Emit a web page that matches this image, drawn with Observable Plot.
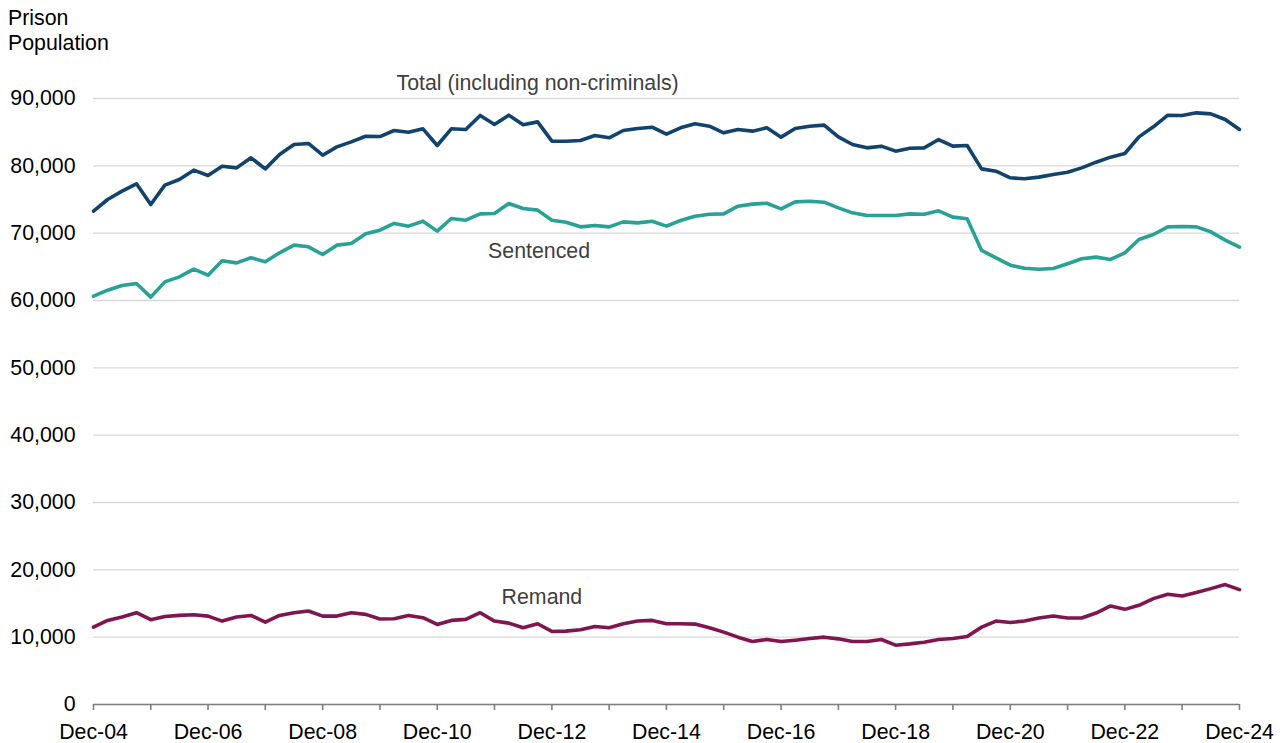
<!DOCTYPE html>
<html>
<head>
<meta charset="utf-8">
<script src="https://cdn.jsdelivr.net/npm/d3@7"></script>
<script src="https://cdn.jsdelivr.net/npm/@observablehq/plot@0.6"></script>
<style>
  html, body { margin: 0; padding: 0; background: #fff; overflow: hidden; }
  #wrap { width: 1283px; height: 743px; font-family: Arial, "Liberation Sans", sans-serif; }
  #ylabel { height: 50px; padding-top: 6px; padding-left: 8px; font-size: 21.33px; line-height: 24.5px; color: #000; }
  svg { display: block; }
</style>
</head>
<body>
<div id="wrap">
  <div id="ylabel">Prison<br>Population</div>
  <div id="chart"></div>
</div>
<script>
// Quarterly prison population, Dec-04 to Dec-24
const totalValues = [
  73270, 75000, 76240, 77330, 74260, 77130, 77970, 79360, 78560, 79950,
  79700, 81190, 79550, 81680, 83170, 83320, 81580, 82820, 83560, 84400,
  84350, 85250, 85000, 85500, 83020, 85500, 85400, 87480, 86140, 87530,
  86090, 86530, 83660, 83660, 83760, 84500, 84160, 85250, 85540, 85740,
  84700, 85640, 86240, 85890, 84900, 85400, 85150, 85640, 84260, 85540,
  85890, 86040, 84300, 83170, 82670, 82920, 82180, 82620, 82670, 83910,
  82920, 83020, 79550, 79210, 78220, 78070, 78320, 78710, 79060, 79700,
  80540, 81290, 81830, 84300, 85790, 87520, 87480, 87870, 87720, 86880,
  85400
];
const sentencedValues = [
  60640, 61530, 62230, 62520, 60500, 62770, 63510, 64650, 63760, 65890,
  65590, 66340, 65740, 67080, 68220, 67970, 66830, 68220, 68470, 69900,
  70450, 71440, 71040, 71780, 70300, 72180, 71930, 72870, 72920, 74410,
  73660, 73420, 71930, 71630, 70940, 71140, 70940, 71680, 71530, 71780,
  71040, 71880, 72520, 72820, 72870, 74010, 74310, 74450, 73610, 74650,
  74750, 74600, 73760, 73020, 72620, 72620, 72620, 72870, 72820, 73320,
  72380, 72130, 67430, 66340, 65250, 64800, 64650, 64750, 65450, 66190,
  66440, 66090, 67080, 69060, 69800, 70940, 70990, 70940, 70200, 68960,
  67920
];
const remandValues = [
  11490, 12490, 12990, 13630, 12590, 13080, 13230, 13330, 13130, 12390,
  12990, 13230, 12240, 13230, 13630, 13880, 13130, 13130, 13630, 13380,
  12700, 12740, 13230, 12890, 11890, 12490, 12640, 13630, 12390, 12090,
  11390, 11990, 10850, 10900, 11090, 11590, 11390, 11990, 12390, 12490,
  11990, 11990, 11940, 11390, 10750, 10000, 9350, 9650, 9350, 9550,
  9800, 10000, 9750, 9350, 9350, 9650, 8810, 9000, 9250, 9650,
  9800, 10100, 11490, 12390, 12190, 12390, 12840, 13130, 12840, 12840,
  13580, 14630, 14130, 14730, 15720, 16370, 16120, 16620, 17210, 17810,
  17060
];
const seriesNames = ["Total (including non-criminals)", "Sentenced", "Remand"];
const seriesColors = ["#12436D", "#28A197", "#801650"];
const xTickLabels = ["Dec-04", "Dec-06", "Dec-08", "Dec-10", "Dec-12", "Dec-14",
                     "Dec-16", "Dec-18", "Dec-20", "Dec-22", "Dec-24"];
const yTicks = [0, 10000, 20000, 30000, 40000, 50000, 60000, 70000, 80000, 90000];
// Series label annotations (in data coordinates: quarter index, value)
const labelQuarter = [31, 31.1, 31.3];
const labelValue = [92230, 67280, 15890];

const quarterDate = i => new Date(Date.UTC(2004, 11 + Math.round(3 * i), 1));
const parseTick = d3.utcParse("%b-%y");
const labelTicks = xTickLabels.map(parseTick);
const yearTicks = d3.range(21).map(k => new Date(Date.UTC(2004 + k, 11, 1)));

const rows = [];
[totalValues, sentencedValues, remandValues].forEach((vals, s) => {
  vals.forEach((v, i) => rows.push({series: seriesNames[s], date: quarterDate(i), value: v}));
});
const labels = seriesNames.map((name, s) => ({
  name,
  date: new Date(quarterDate(Math.floor(labelQuarter[s])).getTime() + (labelQuarter[s] % 1) * 91.3 * 864e5),
  value: labelValue[s]
}));

const chart = Plot.plot({
  width: 1283,
  height: 687,
  marginTop: 42,
  marginBottom: 39,
  marginLeft: 93,
  marginRight: 44,
  style: {fontFamily: "Arial, 'Liberation Sans', sans-serif", fontSize: "21.33px", color: "#000", background: "#fff", overflow: "visible"},
  x: {type: "utc", domain: [labelTicks[0], labelTicks[labelTicks.length - 1]]},
  y: {domain: [0, 90000]},
  color: {domain: seriesNames, range: seriesColors},
  marks: [
    Plot.gridY(yTicks, {stroke: "#d9d9d9", strokeOpacity: 1, strokeWidth: 1.3}),
    Plot.axisY(yTicks, {tickSize: 0, tickPadding: 18, tickFormat: d3.format(","), label: null, fill: "#000"}),
    Plot.ruleY([0], {stroke: "#7f7f7f", strokeWidth: 1.6}),
    Plot.axisX(yearTicks, {tickSize: 6, tickFormat: () => "", stroke: "#7f7f7f", strokeWidth: 1.6, label: null}),
    Plot.axisX(labelTicks, {tickSize: 0, tickPadding: 19, tickFormat: d3.utcFormat("%b-%y"), label: null, fill: "#000"}),
    Plot.line(rows, {x: "date", y: "value", z: "series", stroke: "series", strokeWidth: 3.6}),
    Plot.text(labels, {x: "date", y: "value", text: "name", fill: "#404040", fontSize: 21.33})
  ]
});
document.getElementById("chart").appendChild(chart);
</script>
</body>
</html>
